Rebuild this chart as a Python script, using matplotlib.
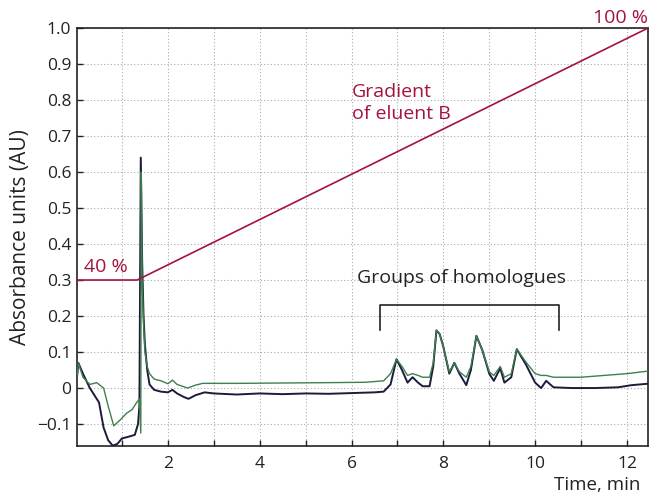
import matplotlib

matplotlib.use("Agg")

import matplotlib.pyplot as plt
import numpy as np
from matplotlib.ticker import FuncFormatter, MultipleLocator

plt.rcParams["font.family"] = ["Open Sans", "DejaVu Sans"]

# chromatogram trace 1 (dark)
dark_t = [0.02, 0.05, 0.15, 0.3, 0.4, 0.5, 0.6, 0.7, 0.8, 0.9, 1.0, 1.15, 1.28, 1.35, 1.38,
          1.41, 1.44, 1.47, 1.5, 1.55, 1.6, 1.7, 1.85, 2.0, 2.1, 2.2, 2.35, 2.45, 2.6, 2.8,
          3.0, 3.5, 4.0, 4.5, 5.0, 5.5, 6.0, 6.5, 6.7, 6.85, 6.98, 7.1, 7.22, 7.33, 7.45, 7.55,
          7.7, 7.78, 7.85, 7.92, 8.0, 8.13, 8.24, 8.35, 8.5, 8.6, 8.72, 8.85, 9.0, 9.1, 9.24,
          9.33, 9.48, 9.6, 9.8, 10.0, 10.13, 10.24, 10.4, 10.8, 11.3, 11.8, 12.1, 12.46]
dark_y = [0.03, 0.07, 0.04, 0.0, -0.02, -0.04, -0.11, -0.145, -0.16, -0.155, -0.14, -0.135, -0.13, -0.1, -0.05,
          0.64, 0.35, 0.2, 0.12, 0.05, 0.01, -0.005, -0.01, -0.012, -0.005, -0.015, -0.025, -0.03, -0.02, -0.012,
          -0.015, -0.018, -0.015, -0.017, -0.015, -0.016, -0.014, -0.012, -0.01, 0.01, 0.08, 0.05, 0.015, 0.03, 0.015, 0.005,
          0.005, 0.06, 0.16, 0.15, 0.115, 0.04, 0.07, 0.04, 0.008, 0.05, 0.145, 0.105, 0.04, 0.02, 0.055,
          0.015, 0.03, 0.108, 0.065, 0.015, 0.0, 0.02, 0.002, 0.0, 0.0, 0.002, 0.008, 0.012]

# chromatogram trace 2 (green)
green_t = [0.02, 0.05, 0.15, 0.3, 0.45, 0.6, 0.7, 0.82, 0.95, 1.1, 1.22, 1.32, 1.38,
           1.41, 1.42, 1.44, 1.47, 1.5, 1.55, 1.6, 1.7, 1.85, 2.0, 2.1, 2.2, 2.43, 2.6, 2.76,
           3.5, 4.5, 5.5, 6.3, 6.7, 6.85, 6.98, 7.1, 7.22, 7.33, 7.45, 7.55, 7.7, 7.78, 7.85, 7.92,
           8.0, 8.13, 8.24, 8.35, 8.5, 8.6, 8.72, 8.85, 9.0, 9.1, 9.24, 9.33, 9.48, 9.6, 9.8, 10.0,
           10.13, 10.24, 10.4, 11.0, 11.5, 12.0, 12.46]
green_y = [0.03, 0.07, 0.03, 0.01, 0.015, 0.0, -0.05, -0.105, -0.09, -0.07, -0.06, -0.04, -0.03,
           -0.125, 0.6, 0.3, 0.18, 0.1, 0.06, 0.04, 0.025, 0.02, 0.012, 0.022, 0.01, 0.0, 0.008, 0.013,
           0.013, 0.014, 0.015, 0.016, 0.02, 0.04, 0.08, 0.06, 0.035, 0.04, 0.035, 0.03, 0.03, 0.07, 0.16, 0.15,
           0.115, 0.045, 0.07, 0.045, 0.03, 0.06, 0.145, 0.105, 0.045, 0.035, 0.06, 0.03, 0.04, 0.108, 0.072, 0.04,
           0.035, 0.035, 0.03, 0.03, 0.035, 0.04, 0.047]

# gradient of eluent B (drawn on absorbance scale)
grad_t = [0.02, 1.33, 12.46]
grad_y = [0.3, 0.3, 1.0]

grad_color = "#A4133C"
dark_color = "#1B1B3C"
green_color = "#3F7F4F"
text_color = "#222222"

fig = plt.figure(figsize=(6.49, 4.99), dpi=100)
ax = fig.add_axes([0.1186, 0.1062, 0.88, 0.8377])

ax.plot(green_t, green_y, color=green_color, linewidth=1.0, zorder=3)
ax.plot(dark_t, dark_y, color=dark_color, linewidth=1.4, zorder=2)
ax.plot(grad_t, grad_y, color=grad_color, linewidth=1.2, zorder=4, clip_on=False)

ax.set_xlim(0.02, 12.46)
ax.set_ylim(-0.161, 1.0)

ax.xaxis.set_major_locator(MultipleLocator(1))
ax.xaxis.set_major_formatter(FuncFormatter(lambda v, p: f"{int(round(v))}" if int(round(v)) % 2 == 0 else ""))
ax.yaxis.set_major_locator(MultipleLocator(0.1))


def fmt_y(v, p):
    if abs(v) < 1e-9:
        return "0"
    s = f"{v:.1f}"
    return s.replace("-", "\u2212")


ax.yaxis.set_major_formatter(FuncFormatter(fmt_y))
ax.tick_params(direction="in", length=4, width=1, labelsize=12.5, colors=text_color)
ax.tick_params(axis="x", pad=7)
ax.tick_params(axis="y", pad=4)
ax.grid(True, linestyle=(0, (1, 2)), color="#aaaaaa", linewidth=0.8)
for s in ax.spines.values():
    s.set_linewidth(1.2)
    s.set_color(text_color)

ax.set_ylabel("Absorbance units (AU)", fontsize=15, color=text_color, labelpad=4)
fig.text(0.987, 0.01, "Time, min", fontsize=13.5, ha="right", va="bottom", color=text_color)

ax.text(0.17, 0.335, "40 %", color=grad_color, fontsize=14, ha="left", va="center")
ax.text(12.46, 1.003, "100 %", color=grad_color, fontsize=14, ha="right", va="bottom", clip_on=False)
ax.text(6.0, 0.735, "Gradient\nof eluent B", color=grad_color, fontsize=14, ha="left", va="bottom",
        linespacing=1.35)

ax.text(6.12, 0.305, "Groups of homologues", color=text_color, fontsize=14, ha="left", va="center")
ax.plot([6.62, 6.62, 10.52, 10.52], [0.16, 0.23, 0.23, 0.16], color=text_color, linewidth=1.2)

fig.savefig("out.png", dpi=100, facecolor="white")
